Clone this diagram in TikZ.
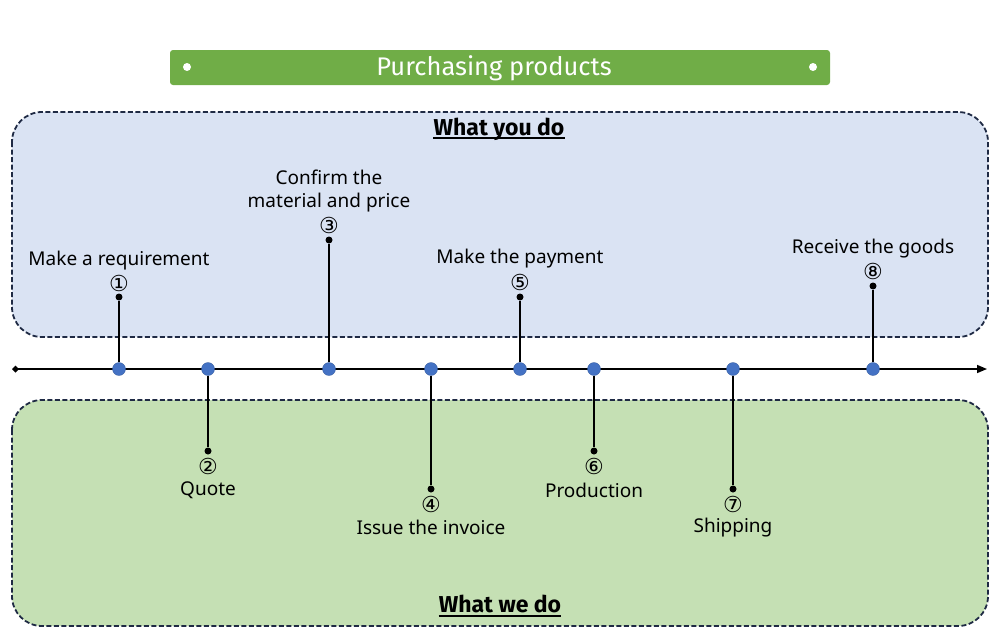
\documentclass[tikz,border=0pt]{standalone}
\usepackage{fontspec}
\setmainfont{Noto Sans}
\newfontfamily\circfont{DejaVu Sans}
\newfontfamily\headfont{Fira Sans}
\usetikzlibrary{arrows.meta}
\definecolor{titlegreen}{HTML}{70AD47}
\definecolor{topfill}{HTML}{DAE3F3}
\definecolor{botfill}{HTML}{C5E0B4}
\definecolor{navy}{HTML}{1F2A44}
\definecolor{dotblue}{HTML}{4472C4}
\newcommand{\thickul}[1]{\tikz[baseline=(u.base)]{\node[inner sep=0pt] (u) {#1};\draw[line width=1.6pt] ([yshift=-3pt]u.base west) -- ([yshift=-3pt]u.base east);}}
\tikzset{
  panel/.style={draw=navy, line width=1.8pt, dash pattern=on 5pt off 2.5pt, rounded corners=30pt},
  bluedot/.style={circle, fill=dotblue, draw=dotblue!80!black, line width=0.3pt, minimum size=13pt, inner sep=0pt},
  tipdot/.style={circle, fill=black, minimum size=7pt, inner sep=0pt},
  stem/.style={line width=1.5pt},
  lbl/.style={font=\fontsize{19}{22.5}\selectfont, inner sep=0pt, align=center},
  num/.style={font=\circfont\fontsize{22}{24}\selectfont, inner sep=0pt},
  head/.style={font=\headfont\bfseries\fontsize{23}{26}\selectfont, inner sep=0pt}
}
\begin{document}
\begin{tikzpicture}[x=1pt,y=-1pt]
\useasboundingbox (0,0) rectangle (1000,637);
% panels
\filldraw[panel, fill=topfill] (12,112) rectangle (988,337);
\filldraw[panel, fill=botfill] (12,400) rectangle (988,626);
% title
\node[fill=titlegreen, rounded corners=3pt, minimum width=660pt, minimum height=35pt, inner sep=0pt] (title) at (500,67.5) {};
\node[font=\headfont\fontsize{25.5}{28}\selectfont, text=white, inner sep=0pt] (titletext) at (494,68) {Purchasing products};
\node[circle, fill=white, minimum size=8pt, inner sep=0pt] (tl) at (187,67) {};
\node[circle, fill=white, minimum size=8pt, inner sep=0pt] (tr) at (813,67) {};
% headings
\node[head] (you) at (499,129) {\thickul{What you do}};
\node[head] (we) at (500,606) {\thickul{What we do}};
% axis
\coordinate (axL) at (12,369);
\coordinate (axR) at (987,369);
\draw[line width=1.5pt, {Diamond[length=7pt,width=7pt]}-{Triangle[length=10pt,width=8pt]}] (axL) -- (axR);
% top events
\foreach \n/\x/\ty in {1/119/297, 3/329/240, 5/520/297, 8/873/286} {
  \node[tipdot] (t\n) at (\x,\ty) {};
  \node[bluedot] (d\n) at (\x,369) {};
  \draw[stem] (d\n) -- (t\n);
}
\foreach \n/\x/\ty in {2/208/451, 4/431/489, 6/594/451, 7/733/489} {
  \node[tipdot] (t\n) at (\x,\ty) {};
  \node[bluedot] (d\n) at (\x,369) {};
  \draw[stem] (d\n) -- (t\n);
}
% numbers
\node[num] (n1) at (119,283) {①};
\node[num] (n3) at (329,225) {③};
\node[num] (n5) at (520,282) {⑤};
\node[num] (n8) at (873,271) {⑧};
\node[num] (n2) at (208,466) {②};
\node[num] (n4) at (431,504) {④};
\node[num] (n6) at (594,466) {⑥};
\node[num] (n7) at (733,504) {⑦};
% labels
\node[lbl] (l1) at (119,261) {Make a requirement};
\node[lbl] (l3) at (329,191) {Confirm the\\material and price};
\node[lbl] (l5) at (520,259) {Make the payment};
\node[lbl] (l8) at (873,249) {Receive the goods};
\node[lbl] (l2) at (208,490) {Quote};
\node[lbl] (l4) at (431,527) {Issue the invoice};
\node[lbl] (l6) at (594,490) {Production};
\node[lbl] (l7) at (733,528) {Shipping};
\end{tikzpicture}
\end{document}
